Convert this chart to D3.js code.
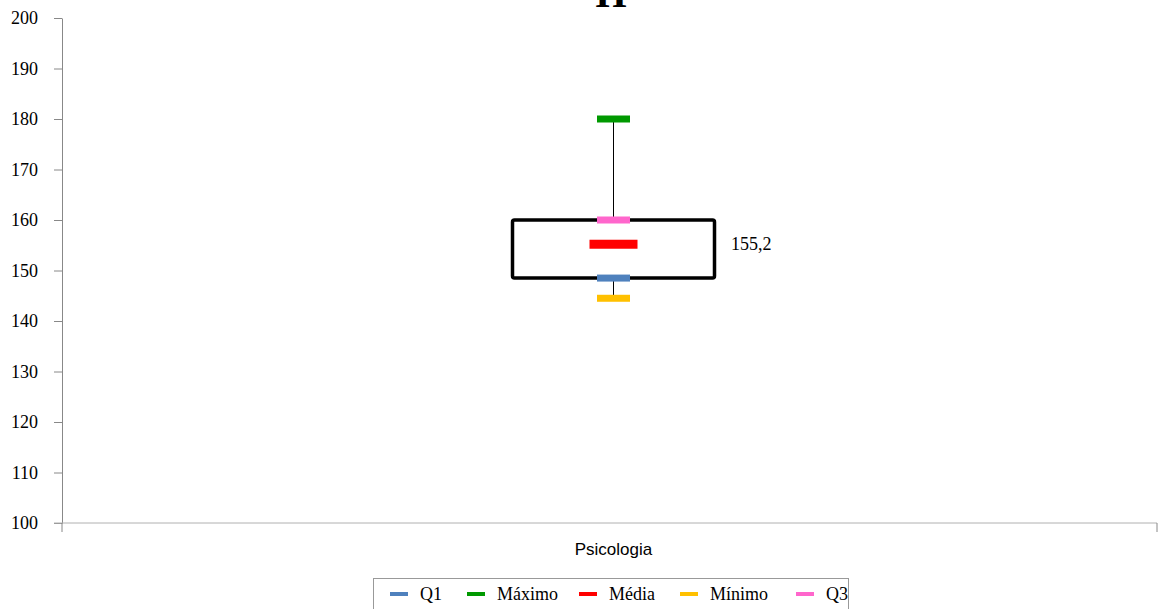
<!DOCTYPE html>
<html>
<head>
<meta charset="utf-8">
<script src="https://cdn.jsdelivr.net/npm/d3@7"></script>
<style>
body{margin:0;background:#fff;}
svg{display:block;}
</style>
</head>
<body>
<div id="wrapper"></div>
<script>
// data
var categorias = ["Psicologia"];
var q1 = [148.5];
var q3 = [160];
var minimo = [144.5];
var maximo = [180];
var media = [155.2];
var yTicks = [100,110,120,130,140,150,160,170,180,190,200];
var series = [
  {nome:"Q1", cor:"#4f81bd"},
  {nome:"Máximo", cor:"#009900"},
  {nome:"Média", cor:"#ff0000"},
  {nome:"Mínimo", cor:"#ffc000"},
  {nome:"Q3", cor:"#ff66cc"}
];

var w = 1160, h = 609;
var serif = "'Liberation Serif','Times New Roman',serif";

var svg = d3.select("#wrapper").append("svg")
  .attr("width", w).attr("height", h);

var y = d3.scaleLinear().domain([100,200]).range([523,18]);
var x = d3.scaleBand().domain(categorias).range([62,1157]);

// title (clipped at top like the original)
svg.append("text")
  .attr("x", 611).attr("y", 7)
  .attr("text-anchor","middle")
  .style("font-family", serif).style("font-weight","bold").style("font-size","40px")
  .text("H");

// y axis
var gy = svg.append("g").attr("transform","translate(62,0)")
  .call(d3.axisLeft(y).tickValues(yTicks).tickSize(8).tickPadding(16).tickSizeOuter(0));
gy.select(".domain").attr("stroke","#888");
gy.selectAll(".tick line").attr("stroke","#888");
gy.selectAll(".tick text").style("font-family",serif).style("font-size","18px").attr("fill","#000");

// x axis
var gx = svg.append("g").attr("transform","translate(0,523)");
gx.append("line").attr("x1",54).attr("x2",x.range()[1]).attr("y1",0).attr("y2",0).attr("stroke","#b0b0b0");
gx.selectAll("line.sep").data(x.range()).enter().append("line")
  .attr("class","sep")
  .attr("x1",function(d){return d;}).attr("x2",function(d){return d;})
  .attr("y1",0).attr("y2",9).attr("stroke","#888");
gx.selectAll("text").data(categorias).enter().append("text")
  .attr("x",function(d){return x(d)+x.bandwidth()/2+4;}).attr("y",32)
  .attr("text-anchor","middle")
  .style("font-family","'Liberation Sans',Arial,sans-serif").style("font-size","17px")
  .text(function(d){return d;});

// box plot
var g = svg.append("g");
categorias.forEach(function(c,i){
  var cx = x(c) + x.bandwidth()/2 + 4;
  // whisker
  g.append("line").attr("x1",cx).attr("x2",cx)
    .attr("y1",y(maximo[i])).attr("y2",y(minimo[i]))
    .attr("stroke","#000").attr("stroke-width",1);
  // box
  g.append("rect")
    .attr("x",cx-101).attr("width",202)
    .attr("y",y(q3[i])).attr("height",y(q1[i])-y(q3[i]))
    .attr("rx",2)
    .attr("fill","#fff").attr("stroke","#000").attr("stroke-width",3.5);
  var marcas = [
    {v:q1[i], cor:series[0].cor, lw:33, lh:7},
    {v:maximo[i], cor:series[1].cor, lw:33, lh:7},
    {v:minimo[i], cor:series[3].cor, lw:33, lh:7},
    {v:q3[i], cor:series[4].cor, lw:33, lh:7},
    {v:media[i], cor:series[2].cor, lw:48, lh:9}
  ];
  g.selectAll("rect.m"+i).data(marcas).enter().append("rect")
    .attr("class","m"+i)
    .attr("x",function(d){return cx-d.lw/2;})
    .attr("y",function(d){return y(d.v)-d.lh/2;})
    .attr("width",function(d){return d.lw;})
    .attr("height",function(d){return d.lh;})
    .attr("fill",function(d){return d.cor;});
  g.append("text")
    .attr("x",731).attr("y",y(media[i])+6)
    .style("font-family",serif).style("font-size","18px")
    .text(String(media[i]).replace(".",","));
});

// legend
var leg = svg.append("g");
leg.append("rect").attr("x",373.5).attr("y",578.5).attr("width",475).attr("height",40)
  .attr("fill","#fff").attr("stroke","#999");
var legX = [390,467,579,680,796];
series.forEach(function(s,i){
  leg.append("rect").attr("x",legX[i]).attr("y",592).attr("width",18).attr("height",4).attr("fill",s.cor);
  leg.append("text").attr("x",legX[i]+30).attr("y",600)
    .style("font-family",serif).style("font-size","18px")
    .text(s.nome);
});
</script>
</body>
</html>
